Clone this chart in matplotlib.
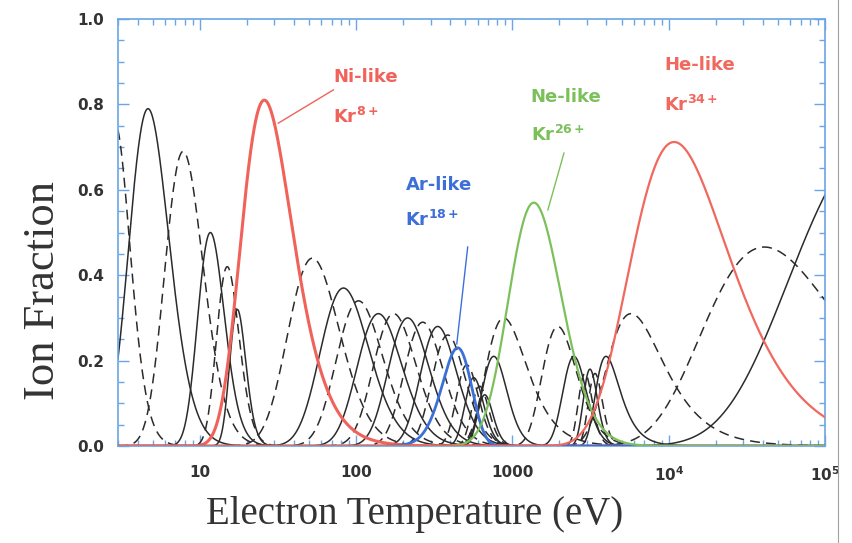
import numpy as np
import matplotlib.pyplot as plt
from matplotlib.lines import Line2D
from matplotlib.ticker import FixedLocator, FixedFormatter, MultipleLocator, LogLocator, NullFormatter

plt.rcParams['mathtext.fontset'] = 'dejavusans'
plt.rcParams['mathtext.default'] = 'bf'

# Kr charge-state balance: one bump per ion stage
peak_temp = [2.87, 4.67, 7.83, 11.7, 15.0, 17.4, 25.9, 52.6, 83.1, 103.7,
             139, 174, 214, 267, 333, 386, 447, 511, 566, 618,
             666, 760, 881, 1372, 1955, 2476, 2913, 3136, 3377, 3972,
             5743, 10830, 40900, 230000]
peak_frac = [0.756, 0.79, 0.69, 0.50, 0.42, 0.32, 0.81, 0.44, 0.37, 0.34,
             0.31, 0.31, 0.30, 0.29, 0.28, 0.26, 0.23, 0.19, 0.16, 0.14,
             0.12, 0.21, 0.30, 0.57, 0.28, 0.21, 0.17, 0.18, 0.17, 0.21,
             0.31, 0.712, 0.466, 0.72]
width_dec = [0.092, 0.128, 0.122, 0.085, 0.072, 0.052, 0.165, 0.165, 0.155, 0.148,
             0.142, 0.136, 0.13, 0.124, 0.116, 0.106, 0.095, 0.07, 0.06, 0.055,
             0.05, 0.08, 0.13, 0.17, 0.11, 0.075, 0.045, 0.045, 0.045, 0.077,
             0.18, 0.316, 0.436, 0.62]
skew = [0.35, 0.35, 0.35, 0.35, 0.35, 0.35, 0.7, 0.35, 0.35, 0.35,
        0.35, 0.35, 0.35, 0.35, 0.35, 0.35, -0.4, 0.35, 0.35, 0.35,
        0.35, 0.35, 0.85, 0.3, 0.6, 0.35, 0.35, 0.35, 0.35, 1.0,
        1.0, 0.82, 0.85, 0.85]

# labelled ions: curve index, isoelectronic name, ion
named_index = [6, 16, 23, 31]
named_seq = ['Ni-like', 'Ar-like', 'Ne-like', 'He-like']
named_ion = ['Kr$^{8+}$', 'Kr$^{18+}$', 'Kr$^{26+}$', 'Kr$^{34+}$']

xtick_vals = [10, 100, 1000, 1e4, 1e5]
xtick_text = ['10', '100', '1000', '$10^4$', '$10^5$']

# styling
dashed = [True, False, True, False, True, False, False, True, False, True,
          False, True, False, True, False, True, False, True, False, True,
          False, False, True, False, True, False, True, False, True, False,
          True, False, True, False]
named_color = ['#f0625a', '#3d6fd8', '#7cc05c', '#f0685e']
named_lw = [2.2, 2.0, 1.6, 1.6]
label_pos = [(71.6, 0.864, 0.77), (207, 0.611, 0.529),
             (1312, 0.817, 0.728), (9350, 0.892, 0.799)]
leaders = {0: ((71.6, 0.834), (31.8, 0.756)),
           1: ((518, 0.466), (441, 0.239)),
           2: ((2138, 0.686), (1687, 0.553))}
frame_blue = '#6aa6e6'
ink = '#2b2b2b'


def ion_curve(T, Tp, h, w, a):
    z = a * (np.log10(T) - np.log10(Tp)) / w
    return h * np.exp(-(z + np.exp(-z) - 1) / a ** 2)


fig = plt.figure(figsize=(8.53, 5.43), dpi=100)
ax = fig.add_axes([0.1383, 0.1786, 0.8289, 0.7864])

T = np.logspace(np.log10(3), 5, 3000)

for i in range(len(peak_temp)):
    if i in named_index:
        continue
    y = ion_curve(T, peak_temp[i], peak_frac[i], width_dec[i], skew[i])
    if dashed[i]:
        ax.plot(T, y, color=ink, lw=1.1, dashes=(6.5, 4))
    else:
        ax.plot(T, y, color=ink, lw=1.1)

for k, i in enumerate(named_index):
    y = ion_curve(T, peak_temp[i], peak_frac[i], width_dec[i], skew[i])
    ax.plot(T, y, color=named_color[k], lw=named_lw[k], zorder=3)
    tx, ty1, ty2 = label_pos[k]
    ax.text(tx, ty1, named_seq[k], color=named_color[k], fontsize=13,
            fontweight='bold', va='center', ha='left')
    ax.text(tx, ty2, named_ion[k], color=named_color[k], fontsize=13,
            fontweight='bold', va='center', ha='left')
    if k in leaders:
        (x0, y0), (x1, y1) = leaders[k]
        ax.plot([x0, x1], [y0, y1], color=named_color[k], lw=1.0, zorder=3)

ax.set_xscale('log')
ax.set_xlim(3, 1e5)
ax.set_ylim(0, 1.0)

ax.xaxis.set_major_locator(FixedLocator(xtick_vals))
ax.xaxis.set_major_formatter(FixedFormatter(xtick_text))
ax.xaxis.set_minor_locator(LogLocator(base=10, subs=np.arange(2, 10)))
ax.xaxis.set_minor_formatter(NullFormatter())
ax.yaxis.set_major_locator(MultipleLocator(0.2))
ax.yaxis.set_minor_locator(MultipleLocator(0.05))
ax.yaxis.set_major_formatter(lambda v, p: f'{v:.1f}')

ax.tick_params(which='both', direction='in', top=True, right=True,
               color=frame_blue, width=1.0, labelcolor='#333333')
ax.tick_params(which='major', length=8)
ax.tick_params(which='minor', length=4)
ax.tick_params(axis='x', which='major', pad=14, labelsize=11)
ax.tick_params(axis='y', which='major', pad=10, labelsize=11)
for lab in ax.get_xticklabels() + ax.get_yticklabels():
    lab.set_fontweight('bold')
for sp in ax.spines.values():
    sp.set_color(frame_blue)
    sp.set_linewidth(1.2)

ax.set_xlabel('Electron Temperature (eV)', family='Liberation Serif',
              fontsize=28, color='#333333')
ax.set_ylabel('Ion Fraction', family='Liberation Serif',
              fontsize=32, color='#333333')
ax.xaxis.set_label_coords(0.42, -0.118)
ax.yaxis.set_label_coords(-0.078, 0.365)

fig.add_artist(Line2D([0.983, 0.983], [0, 1], color='#a0a0a0', lw=0.8))

fig.savefig('out.png', dpi=100)
